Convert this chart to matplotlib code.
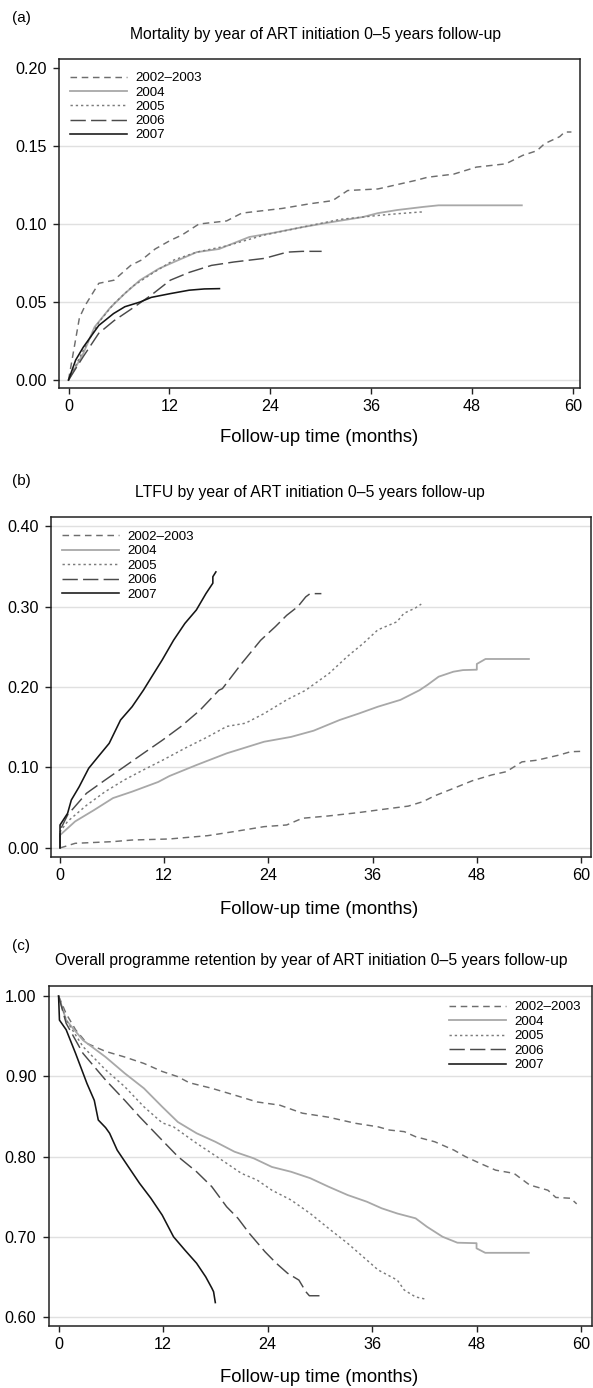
import numpy as np
import matplotlib
matplotlib.use("Agg")
import matplotlib.pyplot as plt

plt.rcParams['font.family'] = ['Liberation Sans', 'DejaVu Sans']

# ---- data ----
years = ['2002\u20132003', '2004', '2005', '2006', '2007']

# (a) mortality
mort_t_0203 = [0, 1.3, 2, 3.6, 5.4, 7.4, 8.7, 10.3, 12.1, 13.5, 15.5, 18.8, 20.6, 25.4, 28.7, 31.4, 33.2, 36.8, 41.3, 42.7, 45.8, 48.5, 52, 54, 55.7, 56.6, 58.4, 59, 59.8]
mort_v_0203 = [0, 0.040, 0.048, 0.062, 0.064, 0.0735, 0.077, 0.084, 0.0895, 0.093, 0.100, 0.102, 0.107, 0.110, 0.113, 0.115, 0.1215, 0.1225, 0.128, 0.130, 0.132, 0.1365, 0.1386, 0.144, 0.147, 0.1515, 0.156, 0.159, 0.159]
mort_t_04 = [0, 1.75, 3.1, 4.9, 6.7, 8.5, 10.75, 12.55, 15.25, 17.9, 21.5, 24.2, 27.8, 31, 35, 36.8, 39.1, 42.2, 44, 53.9]
mort_v_04 = [0, 0.017, 0.034, 0.046, 0.0555, 0.064, 0.0714, 0.0757, 0.082, 0.084, 0.0917, 0.0942, 0.098, 0.101, 0.1045, 0.107, 0.109, 0.111, 0.112, 0.112]
mort_t_05 = [0, 1.75, 3.6, 5.4, 7.6, 9.85, 12.55, 15.25, 18.8, 23.3, 27.8, 32.3, 36.8, 39.1, 41.8, 42.1]
mort_v_05 = [0, 0.019, 0.037, 0.049, 0.060, 0.068, 0.077, 0.082, 0.086, 0.093, 0.098, 0.103, 0.1055, 0.1066, 0.1077, 0.1077]
mort_t_06 = [0, 1.75, 3.6, 5.4, 7.6, 9.85, 12.1, 14.35, 17, 19.7, 23.3, 26, 27.8, 30.1]
mort_v_06 = [0, 0.015, 0.030, 0.038, 0.046, 0.0545, 0.064, 0.069, 0.0735, 0.0757, 0.078, 0.082, 0.0825, 0.0825]
mort_t_07 = [0, 0.85, 1.75, 3.6, 5.35, 6.7, 8.5, 9.85, 12.1, 14.35, 16.15, 17.95]
mort_v_07 = [0, 0.0128, 0.021, 0.035, 0.0426, 0.047, 0.050, 0.053, 0.0554, 0.0576, 0.0584, 0.0586]

# (b) loss to follow-up
ltfu_t_0203 = [0, 1.74, 6.1, 8.3, 12.6, 17, 20, 23.5, 26.1, 27.9, 30.9, 34.4, 37.9, 40.1, 41.8, 43.1, 45.3, 47.5, 49.7, 51.4, 53.2, 54.9, 57.5, 58.8, 59.9]
ltfu_v_0203 = [0, 0.0058, 0.0079, 0.0099, 0.0112, 0.0153, 0.0203, 0.0265, 0.0286, 0.0369, 0.0398, 0.044, 0.049, 0.052, 0.0576, 0.0646, 0.074, 0.0836, 0.0907, 0.0948, 0.107, 0.109, 0.1155, 0.1196, 0.120]
ltfu_t_04 = [0, 0, 1.74, 3.9, 6.1, 8.3, 11.3, 12.6, 15.7, 19.2, 23.5, 26.6, 29.2, 32.2, 34.4, 36.6, 39.2, 41.4, 42.3, 43.6, 45.3, 46.4, 48, 48, 49, 54]
ltfu_v_04 = [0, 0.016, 0.033, 0.047, 0.062, 0.070, 0.082, 0.0894, 0.103, 0.1176, 0.132, 0.138, 0.1457, 0.159, 0.167, 0.1755, 0.184, 0.196, 0.2025, 0.2128, 0.219, 0.221, 0.2215, 0.2286, 0.2348, 0.2348]
ltfu_t_05 = [0, 0, 0.87, 3.05, 5.2, 7.4, 9.6, 11.8, 14.4, 17, 19.2, 21.35, 23.5, 26.1, 28.3, 28.8, 31, 33.1, 34.9, 36.6, 38.8, 39.6, 40.9, 41.6]
ltfu_v_05 = [0, 0.020, 0.033, 0.053, 0.070, 0.0845, 0.097, 0.109, 0.124, 0.138, 0.151, 0.155, 0.167, 0.184, 0.196, 0.200, 0.217, 0.238, 0.254, 0.271, 0.281, 0.2915, 0.298, 0.303]
ltfu_t_06 = [0, 0, 0.87, 3.05, 5.2, 7.4, 9.6, 11.8, 13.9, 16.1, 18.3, 18.7, 20.9, 23.1, 24.8, 26.1, 27.4, 28.3, 28.8, 30.1]
ltfu_v_06 = [0, 0.022, 0.041, 0.068, 0.0845, 0.101, 0.1176, 0.134, 0.1507, 0.171, 0.196, 0.198, 0.229, 0.258, 0.275, 0.289, 0.300, 0.312, 0.316, 0.316]
ltfu_t_07 = [0, 0, 0.87, 1.3, 2.2, 3.3, 4.36, 5.66, 6.97, 8.3, 9.6, 10.46, 11.76, 13.07, 14.38, 15.7, 16.8, 17.6, 17.6, 17.95]
ltfu_v_07 = [0, 0.0286, 0.043, 0.0596, 0.076, 0.099, 0.113, 0.130, 0.159, 0.1755, 0.196, 0.211, 0.2335, 0.258, 0.279, 0.2957, 0.316, 0.329, 0.337, 0.343]

# (c) overall retention
ret_t_0203 = [0, 0.87, 1.95, 3.26, 5.4, 7.6, 9.8, 11.9, 13.7, 15, 17.6, 20.2, 22.8, 25.4, 28, 31, 34.1, 36.7, 38, 39.7, 41, 43.2, 45.4, 46.7, 48.4, 50.2, 52.3, 54.1, 56.2, 57.1, 58.8, 59.5]
ret_v_0203 = [1.0, 0.978, 0.958, 0.941, 0.931, 0.924, 0.916, 0.906, 0.8995, 0.892, 0.885, 0.8766, 0.868, 0.864, 0.854, 0.849, 0.8414, 0.837, 0.833, 0.831, 0.8247, 0.8184, 0.808, 0.800, 0.7915, 0.783, 0.779, 0.7645, 0.758, 0.749, 0.748, 0.741]
ret_t_04 = [0, 0.87, 2.8, 5.4, 7.6, 9.8, 11.9, 13.7, 15.85, 18, 20.2, 22.4, 24.5, 26.7, 28.9, 31, 33.2, 35.4, 37.1, 38.9, 41, 42.3, 44.1, 45.8, 48, 48, 49, 54]
ret_v_04 = [1.0, 0.970, 0.945, 0.924, 0.9037, 0.885, 0.862, 0.843, 0.829, 0.8184, 0.806, 0.7978, 0.787, 0.781, 0.773, 0.7624, 0.752, 0.7437, 0.7355, 0.729, 0.723, 0.7125, 0.700, 0.6926, 0.692, 0.6856, 0.680, 0.680]
ret_t_05 = [0, 0.87, 2.8, 5.4, 7.6, 9.8, 11.9, 13.2, 15.85, 18.45, 21, 22.8, 24.5, 26.7, 28.9, 31, 33.2, 35.4, 36.7, 38.9, 39.7, 41, 42.1]
ret_v_05 = [1.0, 0.970, 0.937, 0.908, 0.887, 0.862, 0.842, 0.837, 0.8165, 0.7978, 0.779, 0.7707, 0.758, 0.7458, 0.729, 0.7105, 0.6918, 0.671, 0.6586, 0.646, 0.6336, 0.625, 0.6224]
ret_t_06 = [0, 0.87, 2.8, 5.4, 7.6, 9.3, 11.5, 13.7, 15.85, 17.6, 19.3, 20.6, 21.9, 23.7, 25, 26.3, 27.6, 28.4, 28.8, 30.2]
ret_v_06 = [1.0, 0.966, 0.9286, 0.8953, 0.870, 0.8496, 0.8247, 0.800, 0.781, 0.7624, 0.7374, 0.723, 0.7043, 0.6814, 0.667, 0.6545, 0.646, 0.6315, 0.6265, 0.6265]
ret_t_07 = [0, 0.1, 0.87, 1.95, 3.26, 4.1, 4.56, 5.4, 5.86, 6.73, 8.03, 9.3, 10.6, 11.9, 13.2, 14.5, 15.85, 16.9, 17.6, 17.8, 18]
ret_v_07 = [1.0, 0.970, 0.958, 0.9286, 0.891, 0.870, 0.8455, 0.836, 0.829, 0.808, 0.787, 0.7666, 0.748, 0.727, 0.700, 0.6835, 0.667, 0.650, 0.636, 0.6315, 0.618]

x_ticks = [0, 12, 24, 36, 48, 60]

# ---- styles ----
styles = [
    dict(color='#6e6e6e', lw=1.05, dashes=(4.5, 3.2)),
    dict(color='#a8a8a8', lw=1.3, linestyle='-'),
    dict(color='#7c7c7c', lw=1.05, dashes=(1.6, 2.0)),
    dict(color='#4a4a4a', lw=1.05, dashes=(10.5, 3.6)),
    dict(color='#151515', lw=1.15, linestyle='-'),
]

W, H = 593, 1388
fig = plt.figure(figsize=(W / 100, H / 100), dpi=100)


def rect(l, t, r, b):
    return [l / W, 1 - b / H, (r - l) / W, (b - t) / H]


def draw_panel(box, series, xlim, ylim, yticks, grid, leg_xy, leg_sp, leg_bg):
    ax = fig.add_axes(rect(*box))
    for y in grid:
        ax.axhline(y, color='#e0e0e0', lw=1.0, zorder=0)
    lines = []
    for (t, v), st in zip(series, styles):
        ln, = ax.plot(t, v, **st)
        lines.append(ln)
    ax.set_xlim(*xlim)
    ax.set_ylim(*ylim)
    ax.set_xticks(x_ticks)
    ax.set_yticks(yticks)
    ax.set_yticklabels(['%.2f' % y for y in yticks])
    ax.tick_params(axis='both', labelsize=11.6, length=4.5, width=1.0, color='#222222')
    ax.tick_params(axis='x', pad=3.5)
    ax.tick_params(axis='y', pad=4.5)
    for s in ax.spines.values():
        s.set_color('#222222')
        s.set_linewidth(1.1)
    leg = ax.legend(lines, years, loc='upper left',
                    bbox_to_anchor=(leg_xy[0] / W, 1 - leg_xy[1] / H),
                    bbox_transform=fig.transFigure,
                    fontsize=9.6, handlelength=4.3, handletextpad=0.6,
                    labelspacing=leg_sp, borderpad=0.15, borderaxespad=0,
                    frameon=leg_bg, fancybox=False)
    if leg_bg:
        leg.get_frame().set_facecolor('white')
        leg.get_frame().set_edgecolor('none')
        leg.get_frame().set_alpha(1)
    return ax


# (a)
draw_panel((59, 59, 580, 388),
           [(mort_t_0203, mort_v_0203), (mort_t_04, mort_v_04), (mort_t_05, mort_v_05),
            (mort_t_06, mort_v_06), (mort_t_07, mort_v_07)],
           (-1.13, 60.82), (-0.0051, 0.2058), [0, 0.05, 0.10, 0.15, 0.20],
           [0, 0.05, 0.10, 0.15], (68, 70), 0.146, True)
fig.text(12 / W, 1 - 18 / H, '(a)', fontsize=11, va='center', ha='left')
fig.text(316 / W, 1 - 34 / H, 'Mortality by year of ART initiation 0\u20135 years follow-up',
         fontsize=11.3, va='center', ha='center')
fig.text(319 / W, 1 - 438 / H, 'Follow-up time (months)', fontsize=13.3, va='center', ha='center')

# (b)
draw_panel((51, 517, 591, 857),
           [(ltfu_t_0203, ltfu_v_0203), (ltfu_t_04, ltfu_v_04), (ltfu_t_05, ltfu_v_05),
            (ltfu_t_06, ltfu_v_06), (ltfu_t_07, ltfu_v_07)],
           (-1.04, 61.15), (-0.0112, 0.4112), [0, 0.1, 0.2, 0.3, 0.4],
           [0, 0.1, 0.2, 0.3, 0.4], (60, 528.5), 0.165, False)
fig.text(12 / W, 1 - 481 / H, '(b)', fontsize=11, va='center', ha='left')
fig.text(310 / W, 1 - 492 / H, 'LTFU by year of ART initiation 0\u20135 years follow-up',
         fontsize=11.3, va='center', ha='center')
fig.text(319 / W, 1 - 910 / H, 'Follow-up time (months)', fontsize=13.3, va='center', ha='center')

# (c)
draw_panel((49, 986, 592, 1326),
           [(ret_t_0203, ret_v_0203), (ret_t_04, ret_v_04), (ret_t_05, ret_v_05),
            (ret_t_06, ret_v_06), (ret_t_07, ret_v_07)],
           (-1.10, 61.26), (0.5888, 1.0125), [0.6, 0.7, 0.8, 0.9, 1.0],
           [0.6, 0.7, 0.8, 0.9, 1.0], (447, 999), 0.165, False)
fig.text(12 / W, 1 - 946 / H, '(c)', fontsize=11, va='center', ha='left')
fig.text(311 / W, 1 - 960 / H, 'Overall programme retention by year of ART initiation 0\u20135 years follow-up',
         fontsize=11.3, va='center', ha='center')
fig.text(319 / W, 1 - 1377 / H, 'Follow-up time (months)', fontsize=13.3, va='center', ha='center')

fig.savefig('out.png', dpi=100)
